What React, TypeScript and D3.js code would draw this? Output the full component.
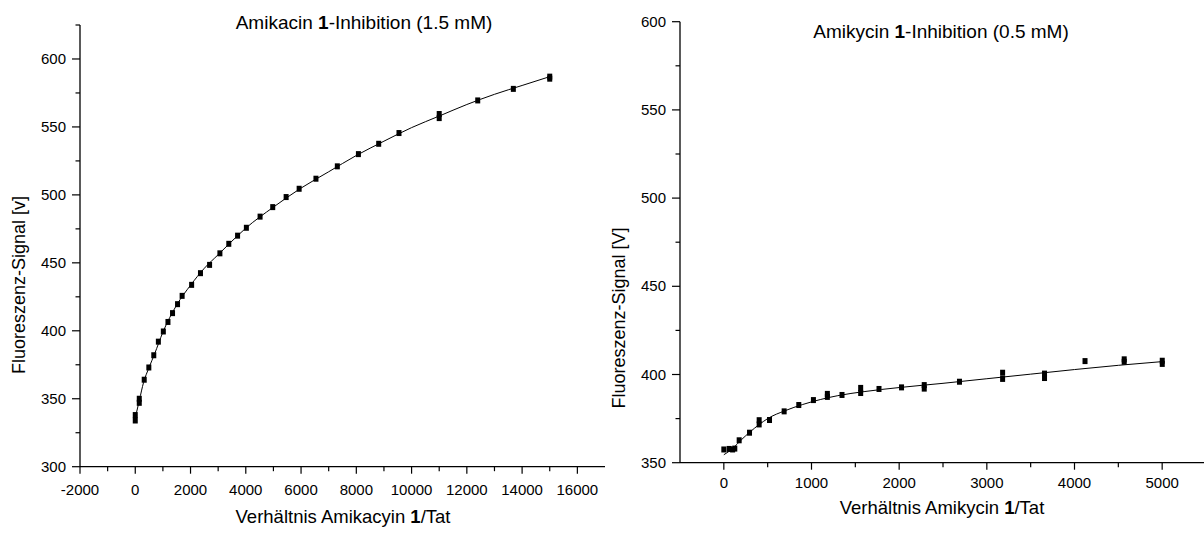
import React from "react";
import * as d3 from "d3";

// ---------- data ----------
const leftPointsX = [0, 0, 145, 145, 324, 491, 670, 836, 1016, 1183, 1349, 1530, 1696, 2040, 2360, 2690, 3063, 3385, 3703, 4021, 4517, 4975, 5460, 5931, 6539, 7313, 8076, 8810, 9544, 11000, 11000, 12394, 13683, 15000, 15000];
const leftPointsY = [338, 334, 350, 347, 364, 373, 382, 392, 399.5, 406.5, 413, 419.6, 425.7, 433.8, 442.4, 448.5, 457, 464, 470, 475.8, 484, 491, 498.4, 504.5, 511.9, 521, 530, 537.6, 545.5, 559.5, 556.5, 569.5, 578, 587, 585.5];
const leftFitX = [0, 150, 300, 500, 700, 1000, 1500, 2000, 2500, 3000, 3500, 4000, 5000, 6000, 7000, 8000, 9000, 10000, 11000, 12000, 13000, 14000, 15000];
const leftFitY = [336, 349, 362, 373, 383, 399, 419, 433.5, 446, 456, 466, 475.5, 491, 505, 517, 529, 539.5, 549.5, 558, 566.5, 574, 580.5, 587];

const rightPointsX = [0, 60, 100, 125, 175, 293, 403, 403, 521, 688, 855, 1022, 1181, 1181, 1348, 1561, 1561, 1770, 2027, 2286, 2286, 2688, 3180, 3180, 3658, 3658, 4120, 4567, 4567, 5001, 5001];
const rightPointsY = [357.5, 357.8, 357.5, 358, 362.7, 367, 374.1, 371.7, 374.2, 379.1, 382.7, 385.5, 389, 387.3, 388.4, 392.4, 389.5, 391.8, 392.7, 394, 392, 395.9, 401, 397.5, 400.5, 398, 407.6, 408.6, 407.2, 407.8, 406];
const rightFitX = [0, 100, 200, 300, 400, 500, 700, 900, 1100, 1300, 1600, 2000, 2500, 3000, 3500, 4000, 4500, 5000];
const rightFitY = [354.5, 358, 363, 367.5, 371.5, 375, 379.5, 383, 385.8, 388, 390.3, 392.6, 395, 397.6, 400.2, 402.8, 405.2, 407.3];

const leftXTicks = [-2000, 0, 2000, 4000, 6000, 8000, 10000, 12000, 14000, 16000];
const leftXMinor = [-1000, 1000, 3000, 5000, 7000, 9000, 11000, 13000, 15000];
const leftYTicks = [300, 350, 400, 450, 500, 550, 600];
const leftYMinor = [325, 375, 425, 475, 525, 575, 625];

const rightXTicks = [0, 1000, 2000, 3000, 4000, 5000];
const rightXMinor = [500, 1500, 2500, 3500, 4500];
const rightYTicks = [350, 400, 450, 500, 550, 600];
const rightYMinor = [375, 425, 475, 525, 575];

const FONT = "'Liberation Sans', Arial, sans-serif";

type PanelProps = {
  x: d3.ScaleLinear<number, number>;
  y: d3.ScaleLinear<number, number>;
  px: number[];
  py: number[];
  fx: number[];
  fy: number[];
  xTicks: number[];
  xMinor: number[];
  yTicks: number[];
  yMinor: number[];
  title: [string, string, string];
  titleX: number;
  titleY: number;
  xLabel: [string, string, string];
  xLabelX: number;
  xLabelY: number;
  yLabel: string;
  yLabelX: number;
  yLabelY: number;
  xTickLabelY: number;
};

function Panel(p: PanelProps) {
  const [x0, x1] = p.x.range();
  const [y0, y1] = p.y.range();
  const line = d3
    .line<number>()
    .x((_, i) => p.x(p.fx[i]))
    .y((d) => p.y(d))
    .curve(d3.curveMonotoneX);
  const MW = 5;
  const MH = 6;
  return (
    <g>
      <line x1={x0} x2={x1} y1={y0} y2={y0} stroke="#000" strokeWidth={1.3} />
      <line x1={x0} x2={x0} y1={y0} y2={y1} stroke="#000" strokeWidth={1.3} />
      {p.xTicks.map((t) => (
        <g key={"xt" + t}>
          <line x1={p.x(t)} x2={p.x(t)} y1={y0} y2={y0 + 7} stroke="#000" strokeWidth={1.2} />
          <text x={p.x(t)} y={p.xTickLabelY} textAnchor="middle" fontSize={15} fontFamily={FONT}>
            {t}
          </text>
        </g>
      ))}
      {p.xMinor.map((t) => (
        <line key={"xm" + t} x1={p.x(t)} x2={p.x(t)} y1={y0} y2={y0 + 4.5} stroke="#000" strokeWidth={1.2} />
      ))}
      {p.yTicks.map((t) => (
        <g key={"yt" + t}>
          <line x1={x0 - 8} x2={x0} y1={p.y(t)} y2={p.y(t)} stroke="#000" strokeWidth={1.2} />
          <text x={x0 - 14} y={p.y(t) + 5} textAnchor="end" fontSize={15} fontFamily={FONT}>
            {t}
          </text>
        </g>
      ))}
      {p.yMinor.map((t) => (
        <line key={"ym" + t} x1={x0 - 4.5} x2={x0} y1={p.y(t)} y2={p.y(t)} stroke="#000" strokeWidth={1.2} />
      ))}
      <path d={line(p.fy) || ""} fill="none" stroke="#000" strokeWidth={1} />
      {p.px.map((v, i) => (
        <rect key={"pt" + i} x={p.x(v) - MW / 2} y={p.y(p.py[i]) - MH / 2} width={MW} height={MH} fill="#000" />
      ))}
      <text x={p.titleX} y={p.titleY} textAnchor="middle" fontSize={19} fontFamily={FONT}>
        {p.title[0]}
        <tspan fontWeight="bold">{p.title[1]}</tspan>
        {p.title[2]}
      </text>
      <text x={p.xLabelX} y={p.xLabelY} textAnchor="middle" fontSize={18.5} fontFamily={FONT}>
        {p.xLabel[0]}
        <tspan fontWeight="bold">{p.xLabel[1]}</tspan>
        {p.xLabel[2]}
      </text>
      <text
        transform={`translate(${p.yLabelX},${p.yLabelY}) rotate(-90)`}
        textAnchor="middle"
        fontSize={18}
        fontFamily={FONT}
      >
        {p.yLabel}
      </text>
    </g>
  );
}

export default function App() {
  const xL = d3.scaleLinear().domain([-2000, 17000]).range([80, 605]);
  const yL = d3.scaleLinear().domain([300, 625]).range([466.7, 25]);
  const xR = d3.scaleLinear().domain([-500, 5500]).range([680, 1206]);
  const yR = d3.scaleLinear().domain([350, 600]).range([462.7, 21.7]);
  return (
    <svg
      width={1204}
      height={533}
      style={{ position: "absolute", left: 0, top: 0, background: "#fff" }}
    >
      <rect width={1204} height={533} fill="#fff" />
      <Panel
        x={xL}
        y={yL}
        px={leftPointsX}
        py={leftPointsY}
        fx={leftFitX}
        fy={leftFitY}
        xTicks={leftXTicks}
        xMinor={leftXMinor}
        yTicks={leftYTicks}
        yMinor={leftYMinor}
        title={["Amikacin ", "1", "-Inhibition (1.5 mM)"]}
        titleX={364}
        titleY={29}
        xLabel={["Verhältnis Amikacyin ", "1", "/Tat"]}
        xLabelX={343}
        xLabelY={523}
        yLabel="Fluoreszenz-Signal [v]"
        yLabelX={25}
        yLabelY={285}
        xTickLabelY={495}
      />
      <Panel
        x={xR}
        y={yR}
        px={rightPointsX}
        py={rightPointsY}
        fx={rightFitX}
        fy={rightFitY}
        xTicks={rightXTicks}
        xMinor={rightXMinor}
        yTicks={rightYTicks}
        yMinor={rightYMinor}
        title={["Amikycin ", "1", "-Inhibition (0.5 mM)"]}
        titleX={941}
        titleY={38}
        xLabel={["Verhältnis Amikycin ", "1", "/Tat"]}
        xLabelX={942}
        xLabelY={514}
        yLabel="Fluoreszenz-Signal [V]"
        yLabelX={625}
        yLabelY={318}
        xTickLabelY={488}
      />
    </svg>
  );
}
